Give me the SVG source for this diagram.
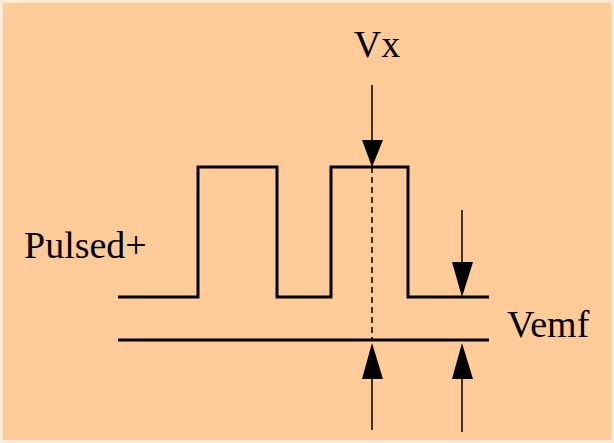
<svg xmlns="http://www.w3.org/2000/svg" width="614" height="443" viewBox="0 0 614 443">
<style>
.w{fill:none;stroke:#000;stroke-width:3}
.a{stroke:#000;stroke-width:1.5}
.h{fill:#000}
.t{font-family:"Liberation Serif",serif;font-size:38px;fill:#000}
</style>
<rect x="0" y="0" width="614" height="443" fill="#fdebd8"/>
<rect x="3" y="3" width="608" height="437" fill="#ffcc99"/>
<g id="waveform">
<polyline class="w" points="118,297 198,297 198,167 277,167 277,297 331,297 331,167 408,167 408,297 489,297"/>
</g>
<g id="baseline">
<line class="w" x1="118" y1="340" x2="489" y2="340"/>
</g>
<g id="connectors">
<line x1="372" y1="167" x2="372" y2="340" stroke="#000" stroke-width="1.5" stroke-dasharray="6,4"/>
<line class="a" x1="372" y1="85" x2="372" y2="145"/>
<polygon class="h" points="362,140 383,140 372,167"/>
<line class="a" x1="462" y1="210" x2="462" y2="265"/>
<polygon class="h" points="452,262 473,262 462,297"/>
<line class="a" x1="372" y1="375" x2="372" y2="430"/>
<polygon class="h" points="362,379 383,379 372,343"/>
<line class="a" x1="462" y1="375" x2="462" y2="432"/>
<polygon class="h" points="452,379 473,379 462,343"/>
</g>
<g id="labels">
<text class="t" x="377" y="57" text-anchor="middle">Vx</text>
<text class="t" x="24" y="258">Pulsed+</text>
<text class="t" x="507" y="337">Vemf</text>
</g>
</svg>
